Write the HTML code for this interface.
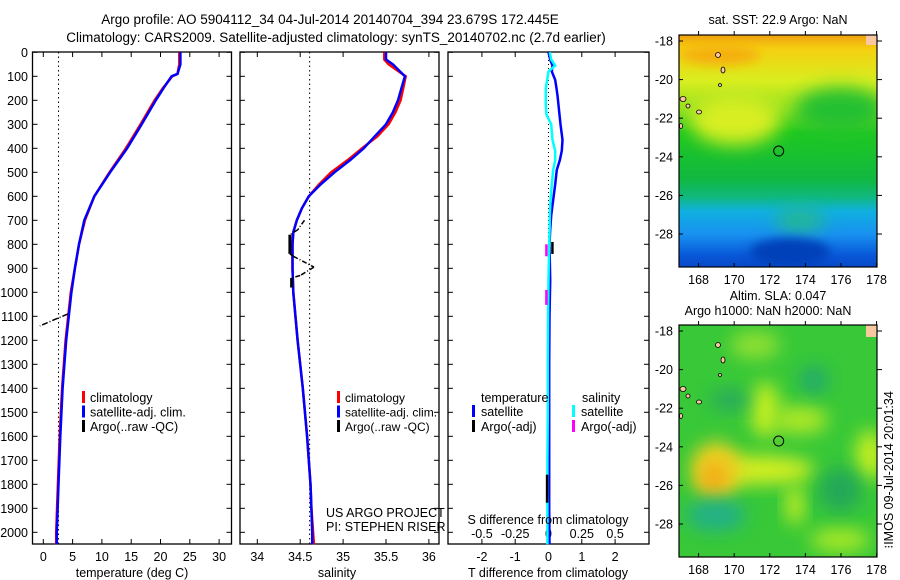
<!DOCTYPE html>
<html><head><meta charset="utf-8"><style>
html,body{margin:0;padding:0;background:#fff}
svg{display:block;font-family:"Liberation Sans",sans-serif}
</style></head><body>
<svg id="fig" width="900" height="580" viewBox="0 0 900 580" xmlns="http://www.w3.org/2000/svg">
<defs>
<filter id="blur8" x="-50%" y="-50%" width="200%" height="200%"><feGaussianBlur stdDeviation="9"/></filter>
<filter id="blur4" x="-50%" y="-50%" width="200%" height="200%"><feGaussianBlur stdDeviation="5"/></filter>
<clipPath id="clipTop"><rect x="679" y="35" width="198" height="232"/></clipPath>
<clipPath id="clipBot"><rect x="679" y="325" width="198" height="232"/></clipPath>
<linearGradient id="sstGrad" x1="0" y1="0" x2="0" y2="1">
<stop offset="0" stop-color="#f0a010"/>
<stop offset="0.06" stop-color="#f5d010"/>
<stop offset="0.2" stop-color="#d8ee20"/>
<stop offset="0.32" stop-color="#90e020"/>
<stop offset="0.42" stop-color="#20c820"/>
<stop offset="0.62" stop-color="#10b840"/>
<stop offset="0.7" stop-color="#10b880"/>
<stop offset="0.76" stop-color="#10b0e0"/>
<stop offset="0.86" stop-color="#1890f0"/>
<stop offset="0.95" stop-color="#0858d8"/>
<stop offset="1" stop-color="#0848c8"/>
</linearGradient>
</defs>
<text x="330" y="24" text-anchor="middle" font-size="13.5">Argo profile: AO 5904112_34 04-Jul-2014 20140704_394 23.679S 172.445E</text>
<text x="336" y="42" text-anchor="middle" font-size="13.5">Climatology: CARS2009. Satellite-adjusted climatology: synTS_20140702.nc (2.7d earlier)</text>
<g id="g1"></g>
<g id="g2"></g>
<g id="g3"></g>
<g id="gm"></g>
<text transform="translate(893,470) rotate(-90)" text-anchor="middle" font-size="12.5">⁝IMOS 09-Jul-2014 20:01:34</text>
</svg>
<script>
// ---- data ----
const depthT = [0,50,90,100,150,200,300,400,500,600,700,800,900,1000,1200,1400,1600,1800,2000,2050];
const tempClim = [23.2,23.2,22.9,22.0,20.4,19.0,16.6,14.1,11.3,8.7,7.1,6.1,5.4,4.7,3.8,3.2,2.8,2.5,2.2,2.2];
const tempSat = [23.4,23.4,22.9,21.9,20.5,19.2,16.8,14.3,11.4,8.7,7.0,6.1,5.4,4.8,3.9,3.3,2.9,2.6,2.3,2.3];
const depthS = [0,30,50,100,150,200,250,300,350,400,450,500,550,600,650,700,750,800,900,1000,1200,1400,1600,1800,1900,2000,2050];
const salClim = [35.48,35.48,35.53,35.73,35.70,35.67,35.61,35.53,35.40,35.22,35.05,34.86,34.72,34.60,34.52,34.46,34.42,34.41,34.41,34.42,34.47,34.53,34.58,34.62,34.63,34.65,34.66];
const salSat = [35.50,35.50,35.58,35.72,35.68,35.64,35.58,35.50,35.37,35.24,35.08,34.90,34.74,34.60,34.52,34.46,34.42,34.41,34.41,34.42,34.47,34.53,34.58,34.62,34.63,34.64,34.64];
const argoTDepth = [1090,1140];
const argoTVal = [4.2,-0.6];
const argoSDepth = [700,740,760,840,850,895,930,940,980];
const argoSVal = [34.55,34.47,34.38,34.38,34.42,34.66,34.50,34.40,34.40];
const diffDepth = [0,30,55,80,115,150,180,220,260,300,365,410,450,490,550,615,680,740,800,950,1100,1300,1500,1700,1900,2050];
const diffT = [0.0,0.05,0.12,0.1,0.2,0.24,0.27,0.3,0.33,0.36,0.42,0.4,0.34,0.25,0.2,0.14,0.08,0.05,0.03,0.05,0.03,0.02,0.02,0.02,0.02,0.03];
const diffS = [0.01,0.02,0.05,0.0,-0.01,-0.02,-0.02,-0.02,-0.015,0.02,0.03,0.05,0.05,0.035,0.025,0.015,0.01,0.008,0.005,0.0,-0.003,-0.005,-0.005,-0.008,-0.008,-0.008];
const depthTicks = [0,100,200,300,400,500,600,700,800,900,1000,1100,1200,1300,1400,1500,1600,1700,1800,1900,2000];
const tempTicks = [0,5,10,15,20,25,30];
const salTicks = [34,34.5,35,35.5,36];
const diffTTicks = [-2,-1,0,1,2];
const diffSTickLabels = ["-0.5","-0.25","0","0.25","0.5"];
const lonTicks = [168,170,172,174,176,178];
const latTicks = [-18,-20,-22,-24,-26,-28];

// ---- scales ----
const yD = d => 52.3 + d*0.24;
const xT = t => 43.3 + t*5.86;
const xS = s => 257.3 + (s-34)*85.8;
const xDT = v => 548.5 + v*33.3;
const xDS = v => 548.5 + v*133.2;
const NS='http://www.w3.org/2000/svg';
function mk(parent,tag,attrs,text){const e=document.createElementNS(NS,tag);for(const k in attrs)e.setAttribute(k,attrs[k]);if(text!==undefined)e.textContent=text;parent.appendChild(e);return e;}
function poly(vals,deps,fx){return deps.map((d,i)=>fx(vals[i]).toFixed(1)+','+yD(d).toFixed(1)).join(' ');}

function frame(g,x0,x1){
  const r=mk(g,'rect',{x:x0,y:52,width:x1-x0,height:492,fill:'none',stroke:'#000','stroke-width':1.3});
  
  
  depthTicks.forEach(d=>{
    mk(g,'line',{x1:x0,x2:x0+5,y1:yD(d),y2:yD(d),stroke:'#000'});
    mk(g,'line',{x1:x1,x2:x1-5,y1:yD(d),y2:yD(d),stroke:'#000'});
  });
}
// Panel 1
const g1=document.getElementById('g1');
frame(g1,32.5,231.5);
depthTicks.forEach(d=>{const t=mk(g1,'text',{x:28,y:yD(d)+4.5,'text-anchor':'end','font-size':12.5},String(d));

});
tempTicks.forEach(v=>{mk(g1,'line',{x1:xT(v),x2:xT(v),y1:544,y2:539,stroke:'#000'});mk(g1,'line',{x1:xT(v),x2:xT(v),y1:52,y2:57,stroke:'#000'});
const t=mk(g1,'text',{x:xT(v),y:561,'text-anchor':'middle','font-size':12.5},String(v));

});
mk(g1,'text',{x:132,y:577,'text-anchor':'middle','font-size':12.5,},'temperature (deg C)');
mk(g1,'line',{x1:xT(2.6),x2:xT(2.6),y1:52,y2:544,stroke:'#000','stroke-dasharray':'1.5,3',});
let p=mk(g1,'polyline',{points:poly(tempClim,depthT,xT),fill:'none',stroke:'#f00','stroke-width':2.5});


p=mk(g1,'polyline',{points:poly(tempSat,depthT,xT),fill:'none',stroke:'#00f','stroke-width':2.5});


p=mk(g1,'polyline',{points:poly(argoTVal,argoTDepth,xT),fill:'none',stroke:'#000','stroke-width':1.5,'stroke-dasharray':'6,2,1,2'});


function legend(g,x,y,items,nm,fs){items.forEach((it,i)=>{mk(g,'rect',{x:x,y:y+i*14.5-6,width:3,height:12,fill:it[0]});
const t=mk(g,'text',{x:x+8,y:y+i*14.5+5,'font-size':fs},it[1]);

});}
legend(g1,82,397,[['#f00','climatology'],['#00f','satellite-adj. clim.'],['#000','Argo(..raw -QC)']],'temperature',12.5);

// Panel 2
const g2=document.getElementById('g2');
frame(g2,240,439);
salTicks.forEach(v=>{mk(g2,'line',{x1:xS(v),x2:xS(v),y1:544,y2:539,stroke:'#000'});mk(g2,'line',{x1:xS(v),x2:xS(v),y1:52,y2:57,stroke:'#000'});
const t=mk(g2,'text',{x:xS(v),y:561,'text-anchor':'middle','font-size':12.5},String(v));

});
mk(g2,'text',{x:337,y:577,'text-anchor':'middle','font-size':12.5,},'salinity');
mk(g2,'line',{x1:xS(34.61),x2:xS(34.61),y1:52,y2:544,stroke:'#000','stroke-dasharray':'1.5,3',});
p=mk(g2,'polyline',{points:poly(salClim,depthS,xS),fill:'none',stroke:'#f00','stroke-width':2.5});


p=mk(g2,'polyline',{points:poly(salSat,depthS,xS),fill:'none',stroke:'#00f','stroke-width':2.5});


for(let i=0;i<argoSDepth.length-1;i++){
  const thick = Math.abs(argoSVal[i]-argoSVal[i+1])<0.001;
  const s=mk(g2,'line',{x1:xS(argoSVal[i]),y1:yD(argoSDepth[i]),x2:xS(argoSVal[i+1]),y2:yD(argoSDepth[i+1]),stroke:'#000','stroke-width':thick?3:1.5,'stroke-dasharray':thick?'':'5,2,1,2'});
  
  
}
legend(g2,337,397,[['#f00','climatology'],['#00f','satellite-adj. clim.'],['#000','Argo(..raw -QC)']],'salinity',12);
mk(g2,'text',{x:326,y:517,'font-size':12.5,},'US ARGO PROJECT');
mk(g2,'text',{x:326,y:531,'font-size':12.5,},'PI: STEPHEN RISER');

// Panel 3
const g3=document.getElementById('g3');
frame(g3,448,649);
diffTTicks.forEach((v,i)=>{mk(g3,'line',{x1:xDT(v),x2:xDT(v),y1:544,y2:539,stroke:'#000'});mk(g3,'line',{x1:xDT(v),x2:xDT(v),y1:52,y2:57,stroke:'#000'});
const t=mk(g3,'text',{x:xDT(v),y:561,'text-anchor':'middle','font-size':12.5},String(v));


const s=mk(g3,'text',{x:xDT(v),y:538,'text-anchor':'middle','font-size':12.5},diffSTickLabels[i]);

});
mk(g3,'text',{x:548,y:577,'text-anchor':'middle','font-size':12.5,},'T difference from climatology');
mk(g3,'line',{x1:548.5,x2:548.5,y1:52,y2:544,stroke:'#000','stroke-dasharray':'1,3'});
p=mk(g3,'polyline',{points:poly(diffT,diffDepth,xDT),fill:'none',stroke:'#00f','stroke-width':2.5});


p=mk(g3,'polyline',{points:poly(diffS,diffDepth,xDS),fill:'none',stroke:'#0ff','stroke-width':2.5});


mk(g3,'rect',{x:xDT(0.08),y:yD(790),width:2.5,height:12,fill:'#000',});
mk(g3,'rect',{x:xDT(-0.08),y:yD(1760),width:2.5,height:28,fill:'#000',});
mk(g3,'rect',{x:xDS(-0.025),y:yD(800),width:2.5,height:12,fill:'#f0f',});
mk(g3,'rect',{x:xDS(-0.025),y:yD(990),width:2.5,height:15,fill:'#f0f',});
mk(g3,'text',{x:481,y:402,'font-size':12.5,},'temperature');
mk(g3,'text',{x:582,y:402,'font-size':12.5,},'salinity');
[['#00f','satellite',472,411],['#000','Argo(-adj)',472,426],['#0ff','satellite',572,411],['#f0f','Argo(-adj)',572,426]].forEach(it=>{
  mk(g3,'rect',{x:it[2],y:it[3]-6,width:3,height:12,fill:it[0]});
  const t=mk(g3,'text',{x:it[2]+9,y:it[3]+5,'font-size':12.5},it[1]);
  
  
});
mk(g3,'text',{x:548,y:524,'text-anchor':'middle','font-size':12.5,},'S difference from climatology');

// Maps
const gm=document.getElementById('gm');
const xL = lon => 679 + (lon-166.9)*17.8;
function mapAxes(y0,nm){
  const lat2y = lat => y0 + 6 + (-18-lat)*19.3;
  mk(gm,'rect',{x:679,y:y0,width:198,height:232,fill:'none',stroke:'#000','stroke-width':1.2});
  lonTicks.forEach(l=>{mk(gm,'line',{x1:xL(l),x2:xL(l),y1:y0+232,y2:y0+228,stroke:'#000'});mk(gm,'line',{x1:xL(l),x2:xL(l),y1:y0,y2:y0-4,stroke:'#000'});
    const t=mk(gm,'text',{x:xL(l),y:y0+249,'text-anchor':'middle','font-size':12.5},String(l));
    
    });
  latTicks.forEach(l=>{mk(gm,'line',{x1:679,x2:683,y1:lat2y(l),y2:lat2y(l),stroke:'#000'});mk(gm,'line',{x1:877,x2:882,y1:lat2y(l),y2:lat2y(l),stroke:'#000'});
    const t=mk(gm,'text',{x:673,y:lat2y(l)+4.5,'text-anchor':'end','font-size':12.5},String(l));
    
    });
  mk(gm,'circle',{cx:xL(172.5),cy:lat2y(-23.7),r:5,fill:'none',stroke:'#000',});
}
// top SST map
const gt=mk(gm,'g',{'clip-path':'url(#clipTop)',});
mk(gt,'rect',{x:679,y:35,width:198,height:232,fill:'url(#sstGrad)'});
mk(gt,'ellipse',{cx:735,cy:120,rx:45,ry:25,fill:'#d8ee20',filter:'url(#blur8)'});
mk(gt,'ellipse',{cx:840,cy:110,rx:45,ry:22,fill:'#20c030',filter:'url(#blur8)'});
mk(gt,'ellipse',{cx:720,cy:55,rx:40,ry:10,fill:'#f5b010',filter:'url(#blur4)'});
mk(gt,'ellipse',{cx:800,cy:220,rx:25,ry:12,fill:'#20b890',filter:'url(#blur8)'});
mk(gt,'ellipse',{cx:790,cy:252,rx:40,ry:14,fill:'#0040b8',filter:'url(#blur4)'});
mk(gt,'rect',{x:866,y:35,width:11,height:10,fill:'#f8c8a0'});
mk(gm,'text',{x:778,y:24,'text-anchor':'middle','font-size':12.5,},'sat. SST: 22.9 Argo: NaN');
mapAxes(35,'sst-map');
// bottom SLA map
const gb=mk(gm,'g',{'clip-path':'url(#clipBot)',});
mk(gb,'rect',{x:679,y:325,width:198,height:232,fill:'#38c838'});
[[765,410,14,28,'#c8f020'],[760,470,55,14,'#d8f020'],[716,470,25,28,'#f0d020'],[714,478,12,16,'#f0a818'],[800,420,28,14,'#b0e828'],[870,455,14,25,'#c8f020'],[795,505,9,20,'#c8f020'],[755,345,25,14,'#90e030'],[840,540,30,12,'#a8e828']].forEach(e=>mk(gb,'ellipse',{cx:e[0],cy:e[1],rx:e[2],ry:e[3],fill:e[4],filter:'url(#blur8)'}));
[[716,515,30,16,'#20b088'],[814,380,14,14,'#20a870'],[840,490,22,22,'#20a858'],[730,400,20,10,'#28a860']].forEach(e=>mk(gb,'ellipse',{cx:e[0],cy:e[1],rx:e[2],ry:e[3],fill:e[4],filter:'url(#blur8)'}));
mk(gb,'rect',{x:866,y:325,width:11,height:12,fill:'#f8c8a0'});
mk(gm,'text',{x:778,y:300,'text-anchor':'middle','font-size':12.5,},'Altim. SLA: 0.047');
mk(gm,'text',{x:768,y:315,'text-anchor':'middle','font-size':12.5,},'Argo h1000: NaN h2000: NaN');
mapAxes(325,'sla-map');
// islands
[35,325].forEach(y0=>{
 [[718,y0+20,2.5,2.5],[723,y0+35,2,3],[683,y0+64,3,2.5],[688,y0+71,2,2],[699,y0+77,2.5,2],[681,y0+91,1.5,2.5],[720,y0+50,1.5,1.5]].forEach(c=>{
  const e=mk(gm,'ellipse',{cx:c[0],cy:c[1],rx:c[2],ry:c[3],fill:'#f8c8a0',stroke:'#000','stroke-width':0.8});
  
  
 });});
</script>
</body></html>
